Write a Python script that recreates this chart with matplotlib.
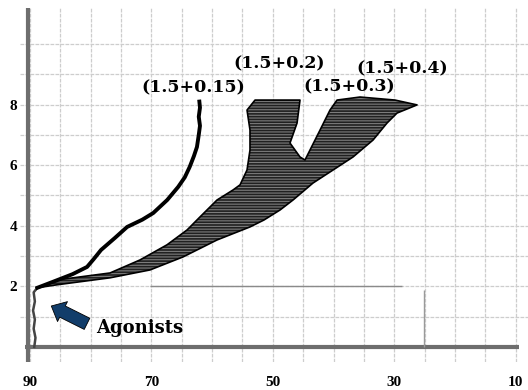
import matplotlib
matplotlib.use("Agg")
import matplotlib.pyplot as plt

# (1.5+0.15) trace (x, y)
c015_x = [89.3, 89.1, 89.4, 89.2, 89.5, 89.2, 89.4, 88.8, 86.2, 83.0, 80.6, 79.5, 78.3,
          76.0, 74.0, 71.5, 69.7, 67.4, 65.6, 64.5, 63.7, 63.0, 62.5, 62.2, 62.0, 62.2, 62.0, 62.1]
c015_y = [0.0, 0.3, 0.6, 0.9, 1.2, 1.5, 1.8, 1.95, 2.15, 2.4, 2.64, 2.9, 3.2,
          3.6, 3.96, 4.2, 4.42, 4.85, 5.28, 5.6, 5.94, 6.3, 6.6, 7.0, 7.3, 7.6, 7.9, 8.1]

# outline of the (1.5+0.2), (1.5+0.3), (1.5+0.4) bundle
bundle_x = [88.85, 85.55, 76.82, 71.88, 67.43, 64.13, 62.0, 59.19, 56.56, 55.4, 54.25, 53.76,
            53.76, 54.25, 52.93, 45.52, 46.01, 47.17, 45.52, 44.7, 42.22, 40.58, 39.42, 35.63,
            29.87, 26.24, 29.54, 31.19, 33.49, 36.79, 40.08, 43.38, 46.67, 48.81, 51.45, 53.76,
            59.19, 64.79, 70.23, 76.82, 85.55]
bundle_y = [1.95, 2.21, 2.44, 2.87, 3.37, 3.86, 4.29, 4.85, 5.18, 5.35, 5.84, 6.5,
            7.16, 7.82, 8.15, 8.15, 7.39, 6.73, 6.27, 6.17, 7.16, 7.82, 8.15, 8.25,
            8.15, 7.99, 7.72, 7.39, 6.83, 6.27, 5.84, 5.41, 4.85, 4.52, 4.19, 3.96,
            3.53, 2.97, 2.54, 2.28, 2.05]

labels = ["(1.5+0.15)", "(1.5+0.2)", "(1.5+0.3)", "(1.5+0.4)"]
label_x = [63.1, 49.0, 37.4, 28.7]
label_y = [8.55, 9.34, 8.58, 9.17]

x_major = [90, 70, 50, 30, 10]
x_minor = [85, 80, 75, 65, 60, 55, 45, 40, 35, 25, 20, 15]
y_major = [2, 4, 6, 8]
y_minor = [1, 3, 5, 7, 9, 10]

plt.rcParams["hatch.linewidth"] = 0.8

fig = plt.figure(figsize=(5.28, 3.9), dpi=100)
ax = fig.add_axes([20/528, 28/390, 508/528, 354/390])
ax.set_xlim(91.65, 7.96)
ax.set_ylim(-0.5, 11.19)

for s in ax.spines.values():
    s.set_visible(False)

ax.set_xticks(x_major)
ax.set_xticks(x_minor, minor=True)
ax.set_yticks(y_major)
ax.set_yticks(y_minor, minor=True)
ax.tick_params(which="both", length=0)
ax.tick_params(axis="x", pad=10)
ax.tick_params(axis="y", pad=2)
for t in ax.get_xticklabels() + ax.get_yticklabels():
    t.set_fontfamily("Liberation Serif")
    t.set_fontweight("bold")
    t.set_fontsize(11)
ax.grid(which="both", color="#cdcdcd", lw=0.9, ls=(0, (3, 1)))
ax.set_axisbelow(True)

# axis lines
ax.axvline(90.33, color="#6e6e6e", lw=3)
ax.hlines(0, 90.8, 9.45, color="#6e6e6e", lw=3)
# stray scan lines
ax.hlines(2.0, 70.2, 28.7, color="#8a8a8a", lw=1)
ax.vlines(25.1, 0, 1.88, color="#9a9a9a", lw=1)

# traces
ax.fill(bundle_x, bundle_y, facecolor="#202020", edgecolor="#7c7c7c",
        hatch="------", linewidth=0, zorder=3)
ax.plot(bundle_x + bundle_x[:1], bundle_y + bundle_y[:1], color="black", lw=1.2, zorder=3)
ax.plot(c015_x[:8], c015_y[:8], color="#444444", lw=1.8, zorder=4)
ax.plot(c015_x[7:], c015_y[7:], color="black", lw=2.8, zorder=4)

for t, x, y in zip(labels, label_x, label_y):
    ax.text(x, y, t, ha="center", va="center", fontsize=12.5,
            family="DejaVu Serif", fontweight="bold", zorder=5)

ax.annotate("", xy=(86.9, 1.39), xytext=(80.2, 0.72),
            arrowprops=dict(arrowstyle="simple,head_length=0.9,head_width=1.6,tail_width=0.9",
                            fc="#123d6a", ec="black", lw=0.6))
ax.text(72.0, 0.63, "Agonists", ha="center", va="center", fontsize=13,
        family="DejaVu Serif", fontweight="bold")

fig.savefig("out.png", dpi=100)
